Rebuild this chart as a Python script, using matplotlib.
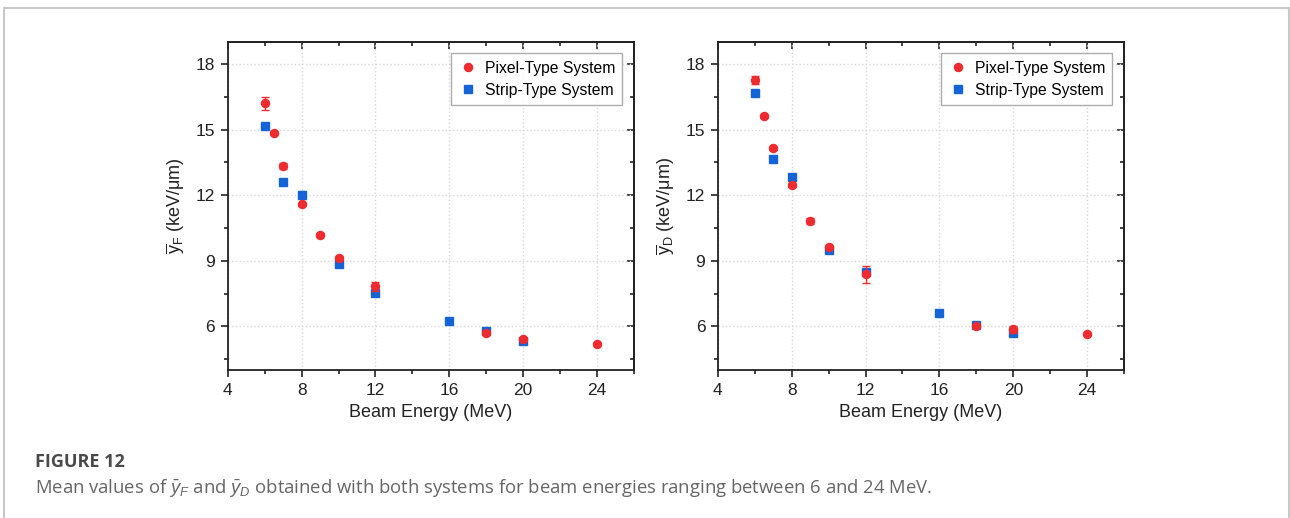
import matplotlib
matplotlib.use("Agg")
import matplotlib.pyplot as plt
from matplotlib.patches import Rectangle
from matplotlib.ticker import MultipleLocator

plt.rcParams['font.family'] = ['Liberation Sans', 'DejaVu Sans']
plt.rcParams['mathtext.fontset'] = 'custom'
plt.rcParams['mathtext.rm'] = 'Liberation Sans'
plt.rcParams['mathtext.it'] = 'Liberation Sans:italic'

# energies (MeV)
pixel_E = [6, 6.5, 7, 8, 9, 10, 12, 18, 20, 24]
strip_E = [6, 7, 8, 10, 12, 16, 18, 20]

# mean lineal energy, frequency-weighted
pixel_yF = [16.2, 14.84, 13.33, 11.58, 10.18, 9.12, 7.83, 5.71, 5.40, 5.19]
pixel_yF_err = [0.3, 0.08, 0.15, 0.08, 0.08, 0.1, 0.22, 0.08, 0.08, 0.05]
strip_yF = [15.18, 12.62, 12.02, 8.85, 7.51, 6.24, 5.79, 5.34]
strip_yF_err = [0.06, 0.06, 0.18, 0.08, 0.1, 0.05, 0.06, 0.05]

# mean lineal energy, dose-weighted
pixel_yD = [17.27, 15.62, 14.16, 12.46, 10.82, 9.64, 8.38, 6.01, 5.86, 5.63]
pixel_yD_err = [0.2, 0.08, 0.1, 0.08, 0.12, 0.1, 0.4, 0.06, 0.16, 0.05]
strip_yD = [16.67, 13.67, 12.83, 9.49, 8.50, 6.59, 6.08, 5.68]
strip_yD_err = [0.06, 0.06, 0.16, 0.08, 0.1, 0.05, 0.06, 0.05]

RED = '#ee2b2f'
BLUE = '#1464d8'
INK = '#222222'

fig = plt.figure(figsize=(12.9, 5.18), dpi=100)

# outer frame around the figure panel
fig.patches.append(Rectangle((4 / 1290, -0.05), 1285 / 1290, 1.05 - 8 / 518,
                             transform=fig.transFigure, fill=False,
                             edgecolor='#c8c8c8', linewidth=1.5))

panels = [
    (0.1765, pixel_yF, pixel_yF_err, strip_yF, strip_yF_err, 'F'),
    (0.5564, pixel_yD, pixel_yD_err, strip_yD, strip_yD_err, 'D'),
]

for left, py, pe, sy, se, sub in panels:
    ax = fig.add_axes([left, 0.2857, 0.315, 0.6326])
    ax.errorbar(strip_E, sy, yerr=se, fmt='s', color=BLUE, ms=5.2,
                ecolor='#8fb4ec', elinewidth=1, capsize=3, zorder=3,
                label='Strip-Type System')
    ax.errorbar(pixel_E, py, yerr=pe, fmt='o', color=RED, ms=5.8,
                ecolor=RED, elinewidth=1, capsize=3, zorder=4,
                label='Pixel-Type System')

    ax.set_xlim(4, 26)
    ax.set_ylim(4, 19)
    ax.xaxis.set_major_locator(MultipleLocator(4))
    ax.xaxis.set_minor_locator(MultipleLocator(2))
    ax.yaxis.set_major_locator(MultipleLocator(3))
    ax.yaxis.set_minor_locator(MultipleLocator(1.5))
    ax.grid(True, which='major', color='#d8d8d8', linestyle=':', linewidth=1)
    ax.set_axisbelow(True)

    ax.tick_params(which='both', direction='out', top=False, right=False,
                   labelsize=12.5, width=1.2, colors=INK)
    ax.tick_params(which='major', length=5, pad=4)
    ax.tick_params(which='minor', length=3)
    # mirrored ticks on top and right, pointing inward
    top = ax.secondary_xaxis('top')
    top.xaxis.set_major_locator(MultipleLocator(4))
    top.xaxis.set_minor_locator(MultipleLocator(2))
    right = ax.secondary_yaxis('right')
    right.yaxis.set_major_locator(MultipleLocator(3))
    right.yaxis.set_minor_locator(MultipleLocator(1.5))
    for sec, pos in ((top, 'top'), (right, 'right')):
        sec.tick_params(which='both', direction='in', width=1.2, color=INK,
                        labeltop=False, labelright=False)
        sec.tick_params(which='major', length=5)
        sec.tick_params(which='minor', length=3)
        sec.spines[pos].set_linewidth(1.3)
        sec.spines[pos].set_color(INK)

    for s in ax.spines.values():
        s.set_linewidth(1.3)
        s.set_color(INK)

    ax.set_xlabel('Beam Energy (MeV)', fontsize=13, labelpad=5, color=INK)
    ax.set_ylabel(r'$\overline{\mathrm{y}}_{\mathrm{%s}}$ (keV/μm)' % sub,
                  fontsize=13, labelpad=6, color=INK)

    handles, labels = ax.get_legend_handles_labels()
    order = [1, 0]
    leg = ax.legend([handles[i][0] for i in order], [labels[i] for i in order],
                    loc='upper right', fontsize=11.3, frameon=True, fancybox=False,
                    edgecolor='#999999', borderpad=0.45, handletextpad=0.5,
                    handlelength=1.2, labelspacing=0.45, borderaxespad=0,
                    bbox_to_anchor=(0.971, 0.966))
    leg.get_frame().set_linewidth(1.0)

fig.text(35 / 1290, 1 - 462 / 518, 'FIGURE 12', fontsize=13, fontweight='bold',
         color='#4a4a4a', va='center', ha='left',
         family=['Open Sans', 'Liberation Sans'])
fig.text(35 / 1290, 1 - 488 / 518,
         r'Mean values of $\bar{y}_F$ and $\bar{y}_D$ obtained with both systems '
         r'for beam energies ranging between 6 and 24 MeV.',
         fontsize=13.3, color='#666666', va='center', ha='left',
         family=['Open Sans', 'Liberation Sans'])

fig.savefig('out.png', dpi=100)
